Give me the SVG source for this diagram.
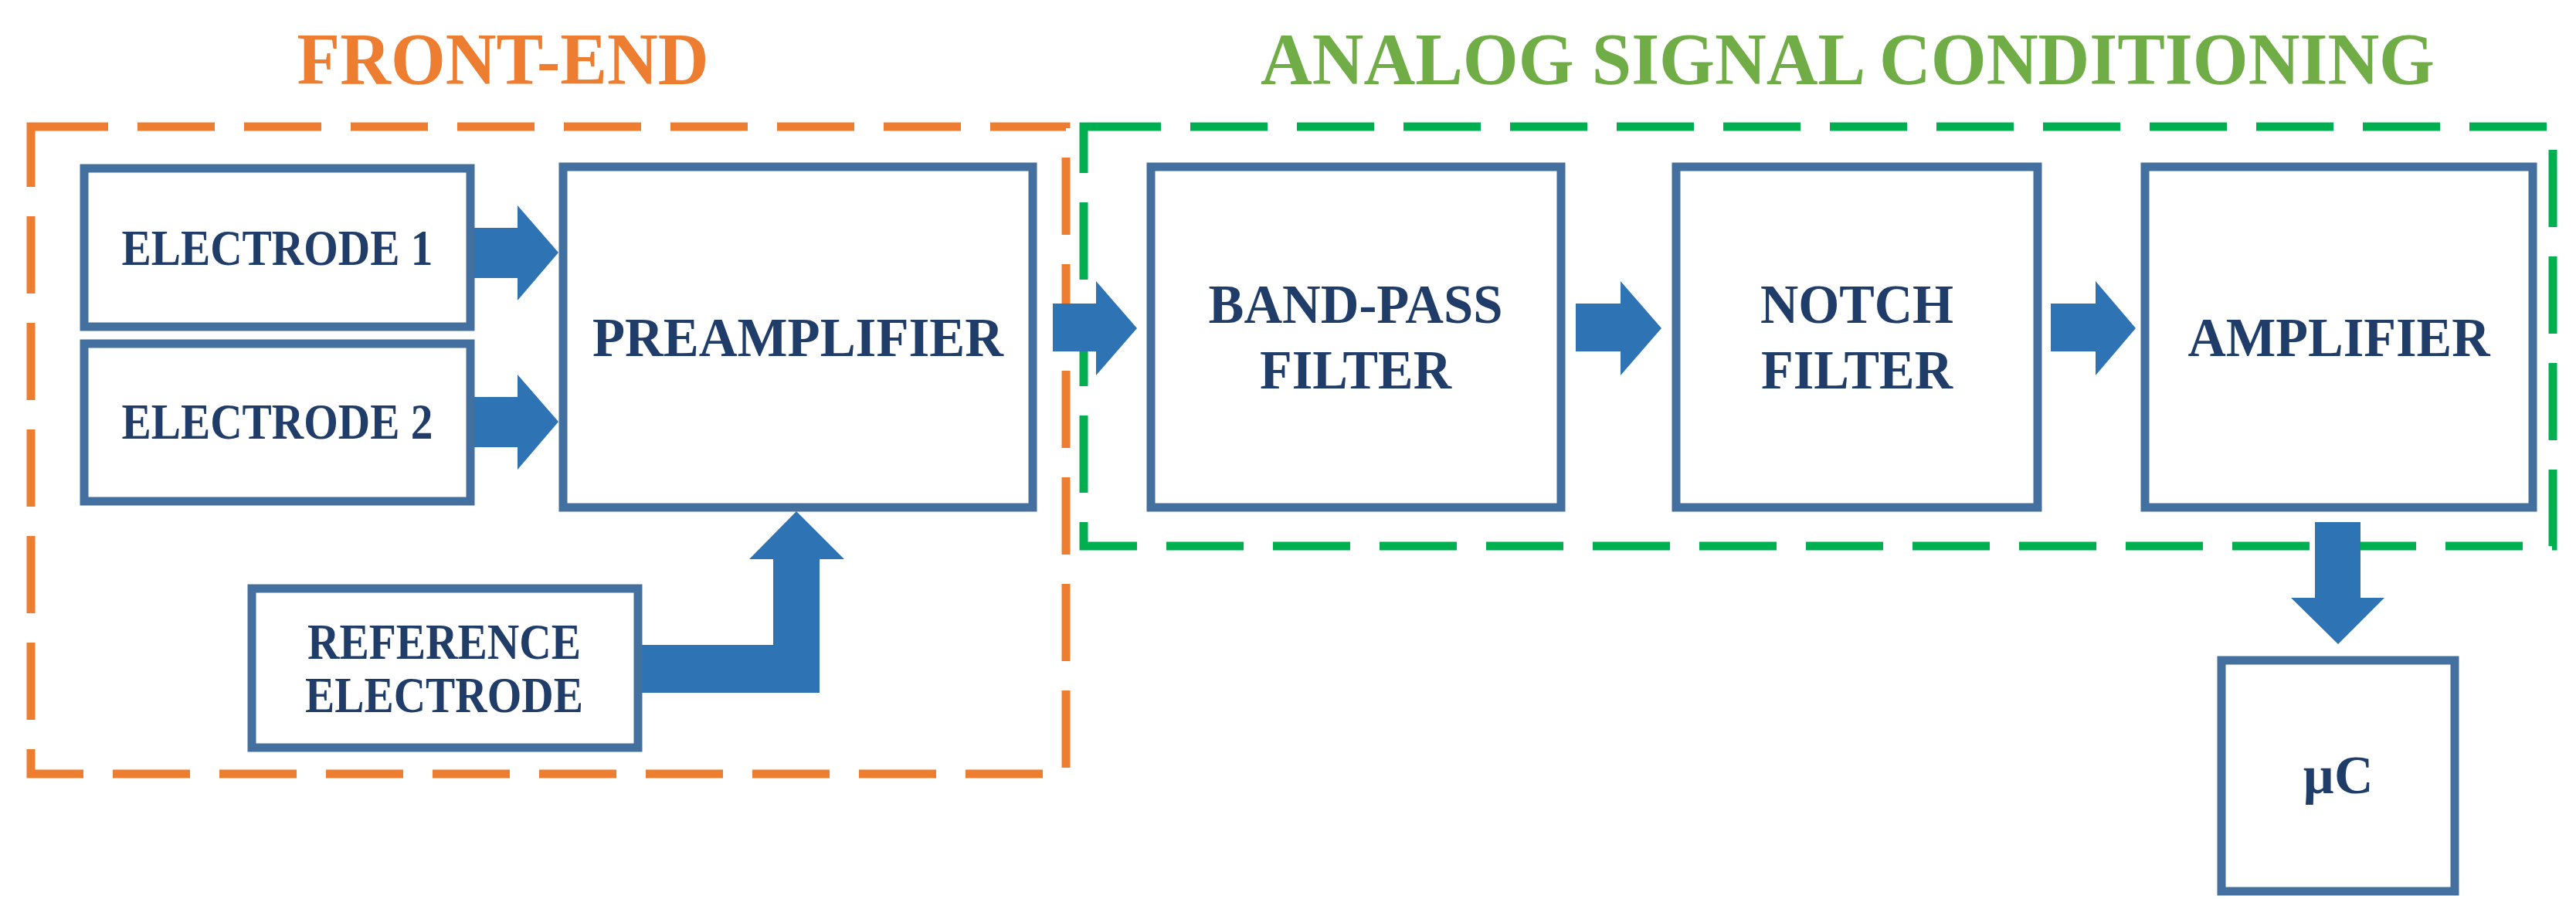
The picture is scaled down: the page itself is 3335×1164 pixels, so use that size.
<svg xmlns="http://www.w3.org/2000/svg" width="3335" height="1164" viewBox="0 0 3335 1164">
<style>
.box{fill:#fff;stroke:#44709f;stroke-width:11}
.t{font-family:"Liberation Serif",serif;font-weight:bold;fill:#1f3d68;text-anchor:middle}
.ar{fill:#2e74b5}
.title{font-family:"Liberation Serif",serif;font-weight:bold;font-size:96px}
</style>
<rect width="3335" height="1164" fill="#fff"/>
<g id="front-end">
<rect x="40" y="164" width="1340" height="838" fill="none" stroke="#ed7d31" stroke-width="11" stroke-dasharray="100 38"/>
<text class="title" x="651" y="109" fill="#ed7d31" text-anchor="middle" textLength="533" lengthAdjust="spacingAndGlyphs">FRONT-END</text>
</g>
<g id="analog">
<rect x="1403" y="164" width="1902" height="543" fill="none" stroke="#00b050" stroke-width="11" stroke-dasharray="100 38"/>
<text class="title" x="2392" y="109" fill="#70ad47" text-anchor="middle" textLength="1520" lengthAdjust="spacingAndGlyphs">ANALOG SIGNAL CONDITIONING</text>
</g>
<g id="connectors">
<polygon class="ar" points="614,295 670,295 670,266 723,327 670,389 670,360 614,360"/>
<polygon class="ar" points="614,514 670,514 670,485 723,546 670,608 670,579 614,579"/>
<polygon class="ar" points="829,835 1001,835 1001,724 970,724 1031,662 1093,724 1061,724 1061,897 829,897"/>
<polygon class="ar" points="1363,393 1419,393 1419,364 1472,425 1419,486 1419,455 1363,455"/>
<polygon class="ar" points="2040,393 2098,393 2098,364 2151,425 2098,486 2098,455 2040,455"/>
<polygon class="ar" points="2655,393 2713,393 2713,364 2765,425 2713,486 2713,455 2655,455"/>
<polygon class="ar" points="2997,676 3056,676 3056,774 3087,774 3027,834 2966,774 2997,774"/>
</g>
<g id="electrode1"><rect class="box" x="109" y="218" width="500" height="205"/><text class="t" x="359" y="343" font-size="66" textLength="403" lengthAdjust="spacingAndGlyphs">ELECTRODE 1</text></g>
<g id="electrode2"><rect class="box" x="109" y="445" width="500" height="204"/><text class="t" x="359" y="568" font-size="66" textLength="403" lengthAdjust="spacingAndGlyphs">ELECTRODE 2</text></g>
<g id="preamplifier"><rect class="box" x="729" y="216" width="608" height="441"/><text class="t" x="1033" y="461" font-size="72" textLength="532" lengthAdjust="spacingAndGlyphs">PREAMPLIFIER</text></g>
<g id="reference"><rect class="box" x="326" y="762" width="500" height="206"/><text class="t" x="575" y="853" font-size="66" textLength="354" lengthAdjust="spacingAndGlyphs">REFERENCE</text><text class="t" x="575" y="922" font-size="66" textLength="360" lengthAdjust="spacingAndGlyphs">ELECTRODE</text></g>
<g id="bandpass"><rect class="box" x="1490" y="216" width="531" height="441"/><text class="t" x="1755" y="418" font-size="72" textLength="381" lengthAdjust="spacingAndGlyphs">BAND-PASS</text><text class="t" x="1755" y="503" font-size="72" textLength="248" lengthAdjust="spacingAndGlyphs">FILTER</text></g>
<g id="notch"><rect class="box" x="2170" y="216" width="468" height="441"/><text class="t" x="2404" y="418" font-size="72" textLength="250" lengthAdjust="spacingAndGlyphs">NOTCH</text><text class="t" x="2404" y="503" font-size="72" textLength="248" lengthAdjust="spacingAndGlyphs">FILTER</text></g>
<g id="amplifier"><rect class="box" x="2777" y="216" width="502" height="441"/><text class="t" x="3028" y="461" font-size="72" textLength="391" lengthAdjust="spacingAndGlyphs">AMPLIFIER</text></g>
<g id="uc"><rect class="box" x="2876" y="855" width="302" height="299"/><text class="t" x="3027" y="1027" font-size="70">µC</text></g>
</svg>
